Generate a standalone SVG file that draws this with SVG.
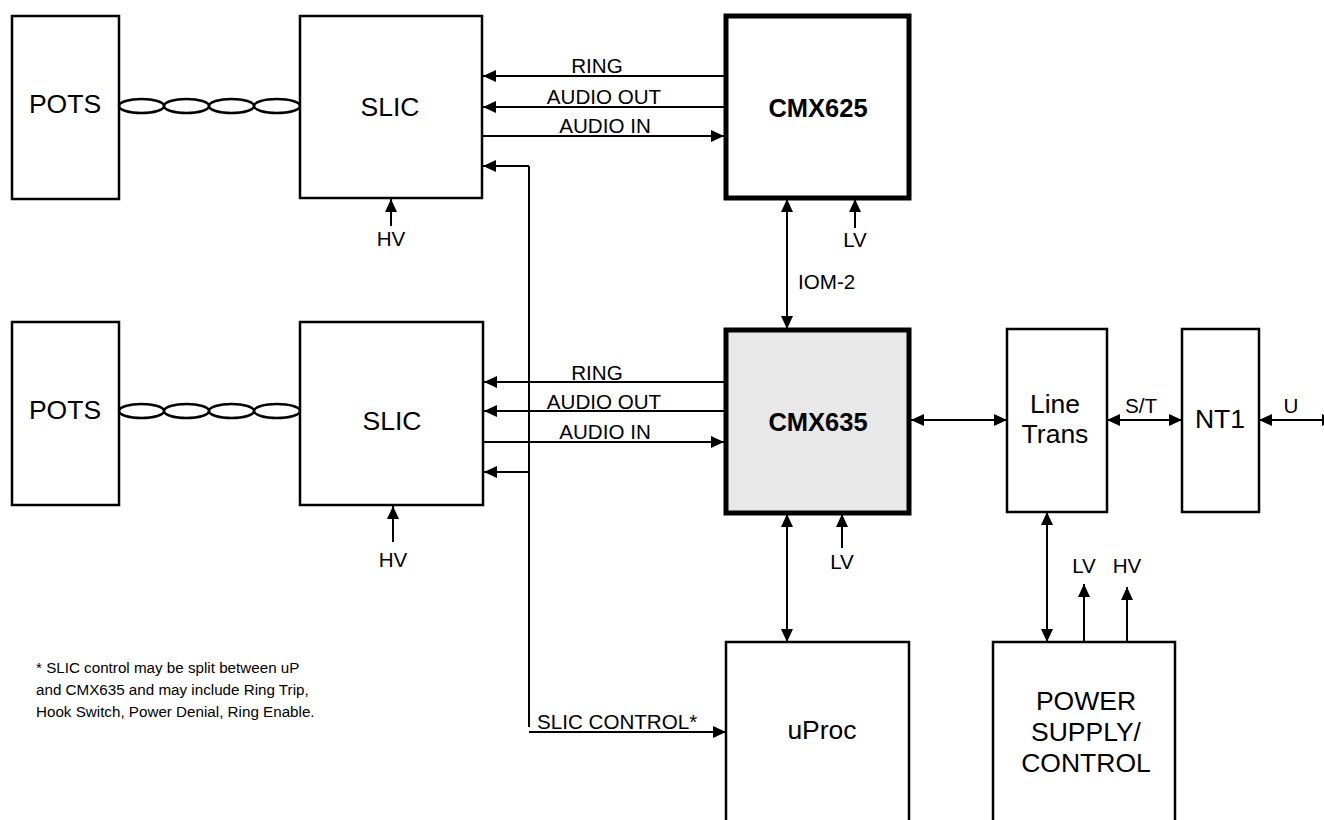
<svg xmlns="http://www.w3.org/2000/svg" width="1324" height="820" viewBox="0 0 1324 820">
<style>
.box{fill:#fff;stroke:#000;stroke-width:2.5}
.cmx{stroke:#000;stroke-width:5}
.t{font-family:"Liberation Sans",Arial,sans-serif;fill:#000;text-anchor:middle}
.big{font-size:26.5px}
.lbl{font-size:20.6px}
.bold{font-size:25.5px;font-weight:bold}
.note{font-family:"Liberation Sans",Arial,sans-serif;font-size:15.2px;fill:#000}
.w{fill:none;stroke:#000;stroke-width:2}
.a{marker-end:url(#ah)}
.d{marker-start:url(#ah);marker-end:url(#ah)}
.tw{fill:none;stroke:#000;stroke-width:2.5}
</style>
<defs>
<marker id="ah" markerUnits="userSpaceOnUse" markerWidth="13" markerHeight="12" refX="13" refY="6" orient="auto-start-reverse" viewBox="0 0 13 12">
<path d="M0,0 L13,6 L0,12 z" fill="#000"/>
</marker>
</defs>
<rect width="1324" height="820" fill="#fff"/>
<g id="pots1"><rect class="box" x="12" y="16" width="107" height="183"/><text class="t big" x="65" y="113">POTS</text></g>
<g id="pair1"><ellipse class="tw" cx="141.5" cy="106" rx="22.5" ry="7"/><ellipse class="tw" cx="186.5" cy="106" rx="22.5" ry="7"/><ellipse class="tw" cx="231.5" cy="106" rx="22.5" ry="7"/><ellipse class="tw" cx="277" cy="106" rx="23" ry="7"/></g>
<g id="slic1"><rect class="box" x="300" y="16" width="182" height="182"/><text class="t big" x="390" y="116">SLIC</text></g>
<g id="cmx625"><rect class="box cmx" x="726" y="16" width="183" height="182"/><text class="t bold" x="818" y="117">CMX625</text></g>
<g id="pots2"><rect class="box" x="12" y="322" width="107" height="183"/><text class="t big" x="65" y="419">POTS</text></g>
<g id="pair2"><ellipse class="tw" cx="141.5" cy="411" rx="22.5" ry="7"/><ellipse class="tw" cx="186.5" cy="411" rx="22.5" ry="7"/><ellipse class="tw" cx="231.5" cy="411" rx="22.5" ry="7"/><ellipse class="tw" cx="277" cy="411" rx="23" ry="7"/></g>
<g id="slic2"><rect class="box" x="300" y="322" width="183" height="183"/><text class="t big" x="392" y="430">SLIC</text></g>
<g id="cmx635"><rect class="cmx" fill="#e8e8e8" x="726" y="330" width="183" height="183"/><text class="t bold" x="818" y="431">CMX635</text></g>
<g id="linetrans"><rect class="box" x="1007" y="329" width="100" height="183"/><text class="t big" x="1055" y="413">Line</text><text class="t big" x="1055" y="443">Trans</text></g>
<g id="nt1"><rect class="box" x="1182" y="329" width="77" height="183"/><text class="t big" x="1220" y="428">NT1</text></g>
<g id="uproc"><rect class="box" x="726" y="642" width="183" height="200"/><text class="t big" x="822" y="739">uProc</text></g>
<g id="power"><rect class="box" x="993" y="642" width="182" height="200"/><text class="t big" x="1086" y="710">POWER</text><text class="t big" x="1086" y="741">SUPPLY/</text><text class="t big" x="1086" y="772">CONTROL</text></g>
<g id="connectors">
<path class="w a" d="M724,76 H483"/>
<path class="w a" d="M724,107 H483"/>
<path class="w a" d="M482,136 H724"/>
<path class="w a" d="M529,166 H483"/>
<path class="w a" d="M391,226 V199"/>
<path class="w d" d="M787,199 V329"/>
<path class="w a" d="M855,228 V199"/>
<path class="w a" d="M724,382 H484"/>
<path class="w a" d="M724,411 H484"/>
<path class="w a" d="M483,442 H724"/>
<path class="w a" d="M529,472 H484"/>
<path class="w" d="M529,166 V727"/>
<path class="w a" d="M529,732 H726"/>
<path class="w a" d="M393,542 V506"/>
<path class="w d" d="M787,514 V642"/>
<path class="w a" d="M842,548 V514"/>
<path class="w d" d="M911,420 H1007"/>
<path class="w d" d="M1107,420 H1182"/>
<path class="w d" d="M1259,420 H1335"/>
<path class="w d" d="M1047,512 V642"/>
<path class="w a" d="M1084,642 V584"/>
<path class="w a" d="M1127,642 V587"/>
</g>
<g id="labels">
<text class="t lbl" x="597" y="73">RING</text>
<text class="t lbl" x="604" y="104">AUDIO OUT</text>
<text class="t lbl" x="605" y="133">AUDIO IN</text>
<text class="t lbl" x="597" y="380">RING</text>
<text class="t lbl" x="604" y="409">AUDIO OUT</text>
<text class="t lbl" x="605" y="439">AUDIO IN</text>
<text class="t lbl" x="391" y="246">HV</text>
<text class="t lbl" x="393" y="567">HV</text>
<text class="t lbl" x="855" y="247">LV</text>
<text class="t lbl" x="842" y="569">LV</text>
<text class="t lbl" x="798" y="289" style="text-anchor:start">IOM-2</text>
<text class="t lbl" x="1141" y="413">S/T</text>
<text class="t lbl" x="1291" y="413">U</text>
<text class="t lbl" x="1084" y="573">LV</text>
<text class="t lbl" x="1127" y="573">HV</text>
<text class="t lbl" x="537" y="729" style="text-anchor:start">SLIC CONTROL*</text>
</g>
<g id="footnote">
<text class="note" x="36" y="673">* SLIC control may be split between uP</text>
<text class="note" x="36" y="695">and CMX635 and may include Ring Trip,</text>
<text class="note" x="36" y="717">Hook Switch, Power Denial, Ring Enable.</text>
</g>
</svg>
